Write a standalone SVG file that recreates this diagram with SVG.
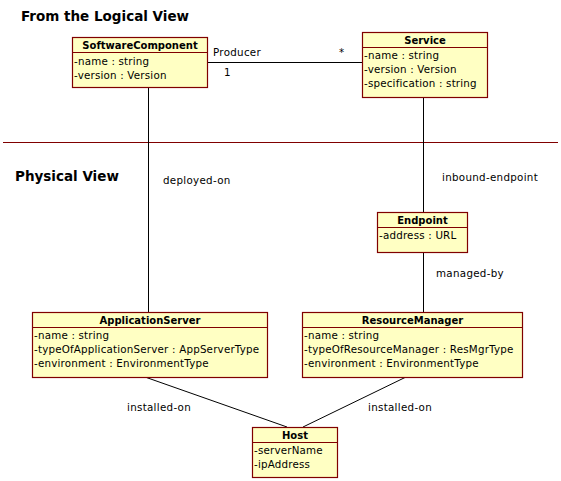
<svg xmlns="http://www.w3.org/2000/svg" width="561" height="481" viewBox="0 0 561 481">
<style>
.box{fill:#ffffc3;stroke:#800000;stroke-width:1.2}
.sep{stroke:#800000;stroke-width:1}
.t{font-family:"DejaVu Sans",sans-serif;font-size:10px;font-weight:bold;fill:#000;text-anchor:middle}
.a{font-family:"DejaVu Sans",sans-serif;font-size:10.3px;letter-spacing:0.2px;fill:#000}
.l{font-family:"DejaVu Sans",sans-serif;font-size:10.3px;letter-spacing:0.3px;fill:#000}
.h{font-family:"DejaVu Sans",sans-serif;font-size:13.5px;font-weight:bold;fill:#000}
.c{stroke:#000;stroke-width:1;fill:none}
</style>
<rect width="561" height="481" fill="#fff"/>
<text class="h" x="21" y="21">From the Logical View</text>
<text class="h" x="15" y="181">Physical View</text>
<line x1="3" y1="142.5" x2="558" y2="142.5" stroke="#800000" stroke-width="1"/>
<g id="connectors">
<line class="c" x1="207" y1="62.5" x2="362" y2="62.5"/>
<line class="c" x1="148.5" y1="87" x2="148.5" y2="312"/>
<line class="c" x1="423.5" y1="97" x2="423.5" y2="212"/>
<line class="c" x1="423.5" y1="252" x2="423.5" y2="312"/>
<line class="c" x1="145" y1="377" x2="287" y2="427"/>
<line class="c" x1="406" y1="377" x2="303" y2="427"/>
<text class="l" x="213" y="56">Producer</text>
<text class="l" x="224" y="76">1</text>
<text class="l" x="339" y="56">*</text>
<text class="l" x="163" y="184">deployed-on</text>
<text class="l" x="442" y="181">inbound-endpoint</text>
<text class="l" x="436" y="277">managed-by</text>
<text class="l" x="127" y="411">installed-on</text>
<text class="l" x="368" y="411">installed-on</text>
</g>
<g id="SoftwareComponent">
<rect class="box" x="72.5" y="37.5" width="135" height="50"/>
<line class="sep" x1="72.5" y1="52.5" x2="207.5" y2="52.5"/>
<text class="t" x="140" y="48.5">SoftwareComponent</text>
<text class="a" x="74" y="65">-name : string</text>
<text class="a" x="74" y="79">-version : Version</text>
</g>
<g id="Service">
<rect class="box" x="362.5" y="32.5" width="125" height="65"/>
<line class="sep" x1="362.5" y1="47.5" x2="487.5" y2="47.5"/>
<text class="t" x="425" y="43.5">Service</text>
<text class="a" x="364" y="59">-name : string</text>
<text class="a" x="364" y="73">-version : Version</text>
<text class="a" x="364" y="87">-specification : string</text>
</g>
<g id="Endpoint">
<rect class="box" x="377.5" y="212.5" width="90" height="40"/>
<line class="sep" x1="377.5" y1="227.5" x2="467.5" y2="227.5"/>
<text class="t" x="422.5" y="223.5">Endpoint</text>
<text class="a" x="379" y="239">-address : URL</text>
</g>
<g id="ApplicationServer">
<rect class="box" x="32.5" y="312.5" width="235" height="65"/>
<line class="sep" x1="32.5" y1="327.5" x2="267.5" y2="327.5"/>
<text class="t" x="150" y="323.5">ApplicationServer</text>
<text class="a" x="34" y="339">-name : string</text>
<text class="a" x="34" y="353">-typeOfApplicationServer : AppServerType</text>
<text class="a" x="34" y="367">-environment : EnvironmentType</text>
</g>
<g id="ResourceManager">
<rect class="box" x="302.5" y="312.5" width="220" height="65"/>
<line class="sep" x1="302.5" y1="327.5" x2="522.5" y2="327.5"/>
<text class="t" x="412.5" y="323.5">ResourceManager</text>
<text class="a" x="304" y="339">-name : string</text>
<text class="a" x="304" y="353">-typeOfResourceManager : ResMgrType</text>
<text class="a" x="304" y="367">-environment : EnvironmentType</text>
</g>
<g id="Host">
<rect class="box" x="252.5" y="427.5" width="85" height="50"/>
<line class="sep" x1="252.5" y1="442.5" x2="337.5" y2="442.5"/>
<text class="t" x="295" y="438.5">Host</text>
<text class="a" x="254" y="454">-serverName</text>
<text class="a" x="254" y="468">-ipAddress</text>
</g>
</svg>
